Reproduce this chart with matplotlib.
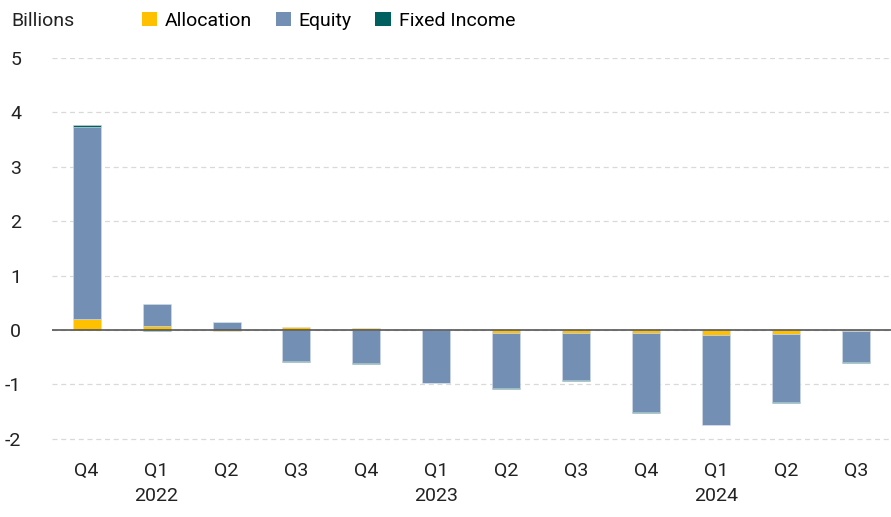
import matplotlib.pyplot as plt
from matplotlib.patches import Patch

quarters = ["Q4", "Q1", "Q2", "Q3", "Q4", "Q1", "Q2", "Q3", "Q4", "Q1", "Q2", "Q3"]
years = {1: "2022", 5: "2023", 9: "2024"}
allocation = [0.20, 0.08, -0.02, 0.05, 0.03, 0.01, -0.06, -0.06, -0.06, -0.09, -0.07, -0.02]
equity = [3.53, 0.40, 0.14, -0.57, -0.61, -0.97, -1.01, -0.86, -1.44, -1.65, -1.25, -0.57]
fixed_income = [0.03, -0.02, 0.01, -0.01, -0.01, -0.01, -0.01, -0.02, -0.02, -0.01, -0.02, -0.02]

series = [("Allocation", allocation, "#FFC000"),
          ("Equity", equity, "#738FB4"),
          ("Fixed Income", fixed_income, "#00605F")]

plt.rcParams["font.family"] = ["Roboto", "DejaVu Sans"]
plt.rcParams["axes.unicode_minus"] = False

fig = plt.figure(figsize=(8.91, 5.17), dpi=100)
ax = fig.add_axes([0.058, 0.13, 0.942, 0.758])

x = list(range(len(quarters)))
pos_base = [0.0] * len(x)
neg_base = [0.0] * len(x)
for name, vals, color in series:
    bottoms = []
    for i, v in enumerate(vals):
        if v >= 0:
            bottoms.append(pos_base[i])
            pos_base[i] += v
        else:
            bottoms.append(neg_base[i])
            neg_base[i] += v
    ax.bar(x, vals, bottom=bottoms, width=0.4, color=color,
           edgecolor=(0.85, 0.88, 0.92, 0.6), linewidth=0.6, zorder=3)

ax.axhline(0, color="#555555", linewidth=1.2, zorder=4)
ax.set_xlim(-0.5, len(x) - 0.5)
ax.set_ylim(-2.2, 5)
ax.set_yticks(range(-2, 6))
ax.yaxis.grid(True, color="#d9d9d9", linestyle=(0, (4, 3)), linewidth=0.9, zorder=0)
for s in ax.spines.values():
    s.set_visible(False)
ax.tick_params(length=0, labelsize=14, colors="#222222")
ax.tick_params(axis="y", pad=22)
ax.set_xticks(x)
ax.set_xticklabels(quarters)
ax.tick_params(axis="x", pad=9)
for i, yr in years.items():
    ax.text(i, -0.117, yr, transform=ax.get_xaxis_transform(), ha="center",
            va="center", fontsize=14, color="#222222")

fig.text(0.013, 0.96, "Billions", fontsize=14, va="center", color="#222222")
handles = [Patch(facecolor=c, label=n) for n, _, c in series]
fig.legend(handles=handles, loc="center left", bbox_to_anchor=(0.148, 0.96), ncol=3,
           frameon=False, fontsize=14, handlelength=0.8, handleheight=0.8,
           handletextpad=0.4, columnspacing=1.2, borderpad=0)

fig.savefig("out.png", dpi=100)
